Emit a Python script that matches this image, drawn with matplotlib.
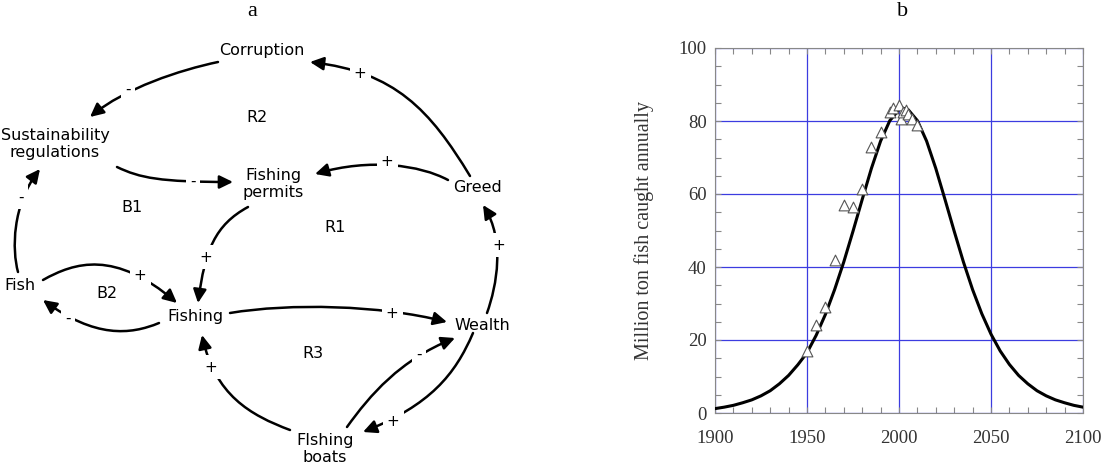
import matplotlib.pyplot as plt
from matplotlib.patches import FancyArrowPatch
from matplotlib.path import Path

# --- data: panel b ---
catch_years = [1950, 1955, 1960, 1965, 1970, 1975, 1980, 1985, 1990, 1995,
               1997, 2000, 2001, 2002, 2004, 2005, 2007, 2010]
catch_values = [17, 24, 29, 42, 57, 56.5, 61.5, 73, 77, 82.5,
                83.5, 84.5, 80.5, 82.5, 83, 82, 80.5, 79]

model_years = [1900, 1905, 1910, 1915, 1920, 1925, 1930, 1935, 1940, 1945,
               1950, 1955, 1960, 1965, 1970, 1975, 1980, 1985, 1990, 1995,
               2000, 2002, 2005, 2010, 2015, 2020, 2025, 2030, 2035, 2040,
               2045, 2050, 2055, 2060, 2065, 2070, 2075, 2080, 2085, 2090,
               2095, 2100]
model_values = [1.2, 1.6, 2.1, 2.8, 3.6, 4.7, 6.1, 8.0, 10.3, 13.2,
                16.5, 21.3, 27.0, 33.8, 41.4, 49.8, 58.5, 67.0, 74.5, 80.1,
                83.1, 83.5, 83.1, 80.1, 74.5, 67.0, 58.5, 49.8, 41.4, 33.8,
                27.2, 21.6, 17.0, 13.3, 10.3, 8.0, 6.1, 4.7, 3.6, 2.8,
                2.1, 1.6]

# --- data: panel a (causal loop diagram) ---
node_names = ['Corruption', 'Sustainability\nregulations', 'Fishing\npermits',
              'Greed', 'Fish', 'Fishing', 'Wealth', 'FIshing\nboats']
loop_names = ['R2', 'B1', 'R1', 'B2', 'R3']
link_signs = ['-', '+', '+', '-', '+', '+', '-', '-', '+', '+', '+', '-', '+']

# layout (pixel positions in the figure)
node_pos = [(262, 50), (55, 144), (273, 184), (478, 187), (20, 286),
            (195, 317), (482, 325), (325, 449)]
loop_pos = [(257, 118), (132, 208), (335, 227), (107, 293), (313, 353)]
link_paths = [
    [(218, 62), (180, 70), (125, 88), (90, 117)],     # Corruption -> Sust.
    [(470, 176), (430, 110), (395, 72), (310, 62)],   # Greed -> Corruption
    [(448, 180), (420, 165), (370, 158), (315, 174)], # Greed -> permits
    [(117, 167), (140, 178), (160, 182), (233, 182)], # Sust. -> permits
    [(248, 207), (215, 225), (205, 250), (198, 303)], # permits -> Fishing
    [(43, 280), (75, 262), (115, 250), (177, 303)],   # Fish -> Fishing
    [(159, 323), (130, 335), (95, 338), (43, 300)],   # Fishing -> Fish
    [(18, 272), (12, 250), (12, 205), (40, 169)],     # Fish -> Sust.
    [(230, 313), (290, 303), (380, 305), (447, 322)], # Fishing -> Wealth
    [(487, 313), (497, 285), (505, 240), (483, 205)], # Wealth -> Greed
    [(473, 333), (455, 375), (430, 405), (363, 432)], # Wealth -> boats
    [(347, 427), (370, 395), (400, 360), (455, 338)], # boats -> Wealth
    [(290, 430), (250, 415), (215, 395), (202, 335)], # boats -> Fishing
]
sign_pos = [(128, 89), (360, 74), (387, 162), (193, 181), (206, 257),
            (140, 275), (68, 318), (21, 197), (392, 313), (499, 245),
            (393, 422), (419, 354), (211, 367)]

fig = plt.figure(figsize=(11.02, 4.68), dpi=100)

ax0 = fig.add_axes([0, 0, 1, 1])
ax0.set_xlim(0, 1102)
ax0.set_ylim(468, 0)
ax0.axis('off')

ax0.text(252, 11, 'a', family='Liberation Serif', fontsize=16, ha='center', va='center')
ax0.text(903, 11, 'b', family='Liberation Serif', fontsize=16, ha='center', va='center')

for name, (x, y) in zip(node_names, node_pos):
    ax0.text(x, y, name, fontsize=11.5, ha='center', va='center', linespacing=1.15)
for name, (x, y) in zip(loop_names, loop_pos):
    ax0.text(x, y, name, fontsize=11.5, ha='center', va='center')

codes = [Path.MOVETO, Path.CURVE4, Path.CURVE4, Path.CURVE4]
for verts, s, (sx, sy) in zip(link_paths, link_signs, sign_pos):
    arr = FancyArrowPatch(path=Path(verts, codes),
                          arrowstyle='-|>,head_length=0.45,head_width=0.22',
                          mutation_scale=18, lw=1.8, color='black')
    ax0.add_patch(arr)
    ax0.text(sx, sy, s, fontsize=11, ha='center', va='center',
             bbox=dict(facecolor='white', edgecolor='none', pad=3))

# --- panel b ---
ax = fig.add_axes([715 / 1102, 55 / 468, 368 / 1102, 365 / 468])
ax.plot(model_years, model_values, color='black', lw=2.2, zorder=3)
ax.scatter(catch_years, catch_values, marker='^', s=60, facecolor='white',
           edgecolor='#555555', linewidths=0.8, zorder=4)
ax.set_xlim(1900, 2100)
ax.set_ylim(0, 100)
ax.set_xticks([1900, 1950, 2000, 2050, 2100])
ax.set_yticks([0, 20, 40, 60, 80, 100])
ax.set_xticks(range(1900, 2101, 10), minor=True)
ax.set_yticks(range(0, 101, 5), minor=True)
ax.grid(True, which='major', color='#3c3ce0', lw=0.9)
ax.tick_params(which='both', direction='in', top=True, right=True,
               color='#888888', length=4, width=0.8)
ax.tick_params(axis='x', pad=12)
ax.tick_params(axis='y', pad=6)
for sp in ax.spines.values():
    sp.set_color('#888888')
for lab in ax.get_xticklabels() + ax.get_yticklabels():
    lab.set_family('Liberation Serif')
    lab.set_fontsize(13.5)
    lab.set_color('#333333')
ax.set_ylabel('Million ton fish caught annually', family='Liberation Serif',
              fontsize=14.5, color='#333333')
ax.yaxis.set_label_coords(-0.165, 0.5)

fig.savefig('out.png', dpi=100)
